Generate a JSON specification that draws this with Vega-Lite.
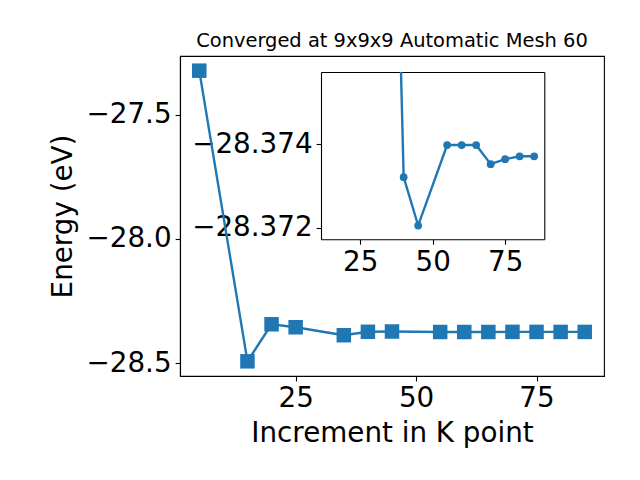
{
  "$schema": "https://vega.github.io/schema/vega-lite/v6.json",
  "width": 424,
  "height": 320,
  "autosize": {"type": "none"},
  "padding": {"left": 180, "top": 56, "right": 36, "bottom": 104},
  "background": "white",
  "title": {
    "text": "Converged at 9x9x9 Automatic Mesh 60",
    "fontSize": 19.44,
    "fontWeight": "normal",
    "font": "DejaVu Sans",
    "color": "black",
    "anchor": "middle",
    "baseline": "alphabetic",
    "offset": -10
  },
  "config": {
    "font": "DejaVu Sans",
    "view": {"stroke": "black", "strokeWidth": 1.1},
    "axis": {
      "grid": false,
      "domain": true,
      "labelFont": "DejaVu Sans",
      "labelFontSize": 27.78,
      "labelColor": "black",
      "labelOverlap": false,
      "labelBound": false,
      "labelFlush": false,
      "tickColor": "black",
      "tickSize": 4.9,
      "tickWidth": 1.1,
      "labelPadding": 4,
      "domainColor": "black",
      "domainWidth": 1.1,
      "titleFont": "DejaVu Sans",
      "titleFontSize": 27.78,
      "titleFontWeight": "normal",
      "titleColor": "black"
    }
  },
  "datasets": {
    "energy": [
      {"k": 5, "E": -27.323},
      {"k": 15, "E": -28.492},
      {"k": 20, "E": -28.343},
      {"k": 25, "E": -28.355},
      {"k": 35, "E": -28.387},
      {"k": 40, "E": -28.37321},
      {"k": 45, "E": -28.37205},
      {"k": 55, "E": -28.37398},
      {"k": 60, "E": -28.37398},
      {"k": 65, "E": -28.37398},
      {"k": 70, "E": -28.37352},
      {"k": 75, "E": -28.37364},
      {"k": 80, "E": -28.37371},
      {"k": 85, "E": -28.37371}
    ]
  },
  "data": {"name": "energy"},
  "resolve": {
    "scale": {"x": "independent", "y": "independent"},
    "axis": {"x": "independent", "y": "independent"}
  },
  "layer": [
    {
      "transform": [{"filter": "datum.k >= 35"}],
      "resolve": {"axis": {"x": "independent", "y": "independent"}},
      "layer": [
        {
          "mark": {"type": "line", "color": "#1f77b4", "strokeWidth": 2.4, "clip": {"expr": "pathShape('M141,16L364.3,16L364.3,183.3L141,183.3Z')"}},
          "encoding": {
            "x": {
              "field": "k", "type": "quantitative",
              "scale": {"domain": [11.5, 88.5], "range": [141, 364.3], "nice": false, "zero": false},
              "axis": {"orient": "bottom", "offset": -136.7, "values": [25, 50, 75], "title": null, "domain": true}
            },
            "y": {
              "field": "E", "type": "quantitative",
              "scale": {"domain": [-28.37573, -28.37172], "range": [16, 183.3], "nice": false, "zero": false},
              "axis": {"orient": "left", "offset": -141, "values": [-28.374, -28.372], "format": ".3f", "title": null, "domain": true}
            }
          }
        },
        {
          "mark": {"type": "circle", "color": "#1f77b4", "opacity": 1, "size": 60, "clip": true},
          "encoding": {
            "x": {
              "field": "k", "type": "quantitative",
              "axis": {"orient": "top", "offset": -16, "labels": false, "ticks": false, "title": null, "domain": true}
            },
            "y": {
              "field": "E", "type": "quantitative",
              "axis": {"orient": "right", "offset": -59.7, "labels": false, "ticks": false, "title": null, "domain": true}
            }
          }
        }
      ]
    },
    {
      "encoding": {
        "x": {
          "field": "k", "type": "quantitative",
          "scale": {"domain": [1, 89], "nice": false, "zero": false},
          "axis": {"orient": "bottom", "values": [25, 50, 75], "title": "Increment in K point", "titlePadding": 7}
        },
        "y": {
          "field": "E", "type": "quantitative",
          "scale": {"domain": [-28.551, -27.264], "nice": false, "zero": false},
          "axis": {"orient": "left", "values": [-27.5, -28.0, -28.5], "format": ".1f", "title": "Energy (eV)", "titlePadding": 9}
        }
      },
      "layer": [
        {"mark": {"type": "line", "color": "#1f77b4", "strokeWidth": 2.4}},
        {"mark": {"type": "square", "color": "#1f77b4", "opacity": 1, "filled": true, "size": 210}}
      ]
    }
  ]
}
